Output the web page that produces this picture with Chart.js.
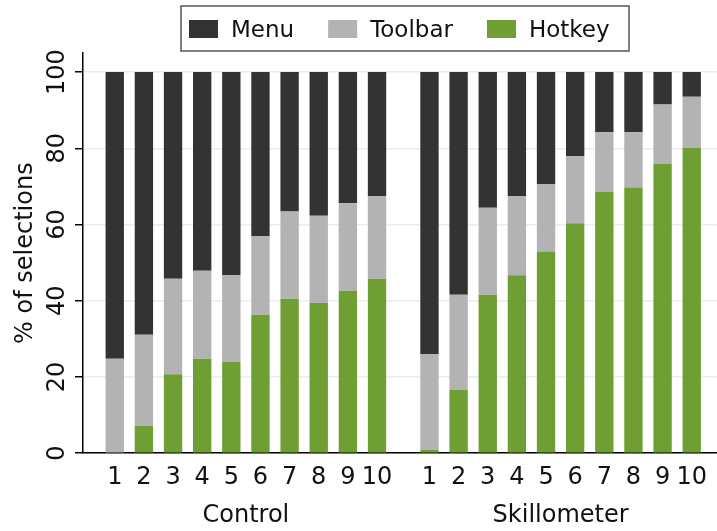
<!DOCTYPE html>
<html lang="en">
<head>
    <meta charset="UTF-8">
    <script src="https://cdn.jsdelivr.net/npm/chart.js"></script>
    <title>Selections by session</title>
    <style>
        html, body { margin: 0; padding: 0; background: #fff; }
        #wrap { width: 717px; height: 531px; }
    </style>
</head>
<body>
<div id="wrap"><canvas id="myChart" width="717" height="531"></canvas></div>
<script>
// data (% of selections per session)
var groups = ['Control', 'Skillometer'];
var sessions = ['1', '2', '3', '4', '5', '6', '7', '8', '9', '10'];
var hotkeyControl = [0, 7.2, 20.7, 24.8, 24.0, 36.3, 40.5, 39.4, 42.6, 45.8];
var toolbarControl = [24.8, 23.9, 25.1, 23.1, 22.7, 20.7, 22.9, 22.9, 23.0, 21.7];
var menuControl = [75.2, 68.9, 54.2, 52.1, 53.3, 43.0, 36.6, 37.7, 34.4, 32.5];
var hotkeySkill = [0.9, 16.6, 41.6, 46.7, 52.9, 60.3, 68.6, 69.7, 75.9, 80.1];
var toolbarSkill = [25.1, 25.0, 22.8, 20.8, 17.7, 17.7, 15.6, 14.5, 15.6, 13.4];
var menuSkill = [74.0, 58.4, 35.6, 32.5, 29.4, 22.0, 15.8, 15.8, 8.5, 6.5];
var yTicks = [0, 20, 40, 60, 80, 100];

var FONT = 'DejaVu Sans';
var groupStep = 10.8; // distance between session 1 of each group on the x scale

function xPos(g, i) {
    return g * groupStep + i + 1;
}

var positions = [];
var tickNames = [];
for (var g = 0; g < groups.length; g++) {
    for (var i = 0; i < sessions.length; i++) {
        positions.push(xPos(g, i));
        tickNames.push(sessions[i]);
    }
}

function points(a, b) {
    var out = [];
    a.concat(b).forEach(function (v, k) {
        out.push({ x: positions[k], y: v });
    });
    return out;
}

// box legend drawn above the plot
var boxLegend = {
    id: 'boxLegend',
    afterDraw: function (chart) {
        var ctx = chart.ctx;
        var sets = chart.data.datasets.slice().reverse();
        ctx.save();
        ctx.font = '23px "' + FONT + '"';
        ctx.textBaseline = 'middle';
        var sq = 29, gap = 13, between = 34;
        var x0 = chart.chartArea.left + 98;
        ctx.strokeStyle = '#555';
        ctx.lineWidth = 1.5;
        ctx.strokeRect(x0, 6, 448, 45);
        var x = x0 + 8;
        sets.forEach(function (d) {
            ctx.fillStyle = d.backgroundColor;
            ctx.fillRect(x, 20, sq, 18);
            ctx.fillStyle = '#111';
            ctx.fillText(d.label, x + sq + gap, 31);
            x += sq + gap + ctx.measureText(d.label).width + between;
        });
        ctx.restore();
    }
};

// group names under the session numbers
var groupLabels = {
    id: 'groupLabels',
    afterDraw: function (chart) {
        var ctx = chart.ctx;
        var sx = chart.scales.x;
        ctx.save();
        ctx.font = '24px "' + FONT + '"';
        ctx.fillStyle = '#111';
        ctx.textAlign = 'center';
        ctx.textBaseline = 'middle';
        for (var g = 0; g < groups.length; g++) {
            var a = sx.getPixelForValue(xPos(g, 0));
            var b = sx.getPixelForValue(xPos(g, sessions.length - 1));
            ctx.fillText(groups[g], (a + b) / 2, 516);
        }
        ctx.restore();
    }
};

var ctx = document.getElementById('myChart').getContext('2d');
var myChart = new Chart(ctx, {
    type: 'bar',
    data: {
        datasets: [
            { label: 'Hotkey', data: points(hotkeyControl, hotkeySkill), backgroundColor: '#6f9f33' },
            { label: 'Toolbar', data: points(toolbarControl, toolbarSkill), backgroundColor: '#b3b3b3' },
            { label: 'Menu', data: points(menuControl, menuSkill), backgroundColor: '#333333' }
        ]
    },
    options: {
        responsive: false,
        animation: false,
        layout: { padding: { top: 53, bottom: 29, right: 0, left: 0 } },
        datasets: { bar: { barPercentage: 1, categoryPercentage: 0.63 } },
        plugins: {
            legend: { display: false },
            tooltip: { enabled: false }
        },
        scales: {
            x: {
                type: 'linear',
                stacked: true,
                offset: false,
                min: -0.09,
                max: 21.66,
                afterBuildTicks: function (scale) {
                    scale.ticks = positions.map(function (p) { return { value: p }; });
                },
                ticks: {
                    autoSkip: false,
                    maxRotation: 0,
                    padding: 10,
                    color: '#111',
                    font: { family: FONT, size: 24 },
                    callback: function (value, index) { return tickNames[index]; }
                },
                grid: { display: false, drawTicks: false },
                border: { display: true, color: '#000', width: 1.5 }
            },
            y: {
                stacked: true,
                min: 0,
                max: 105,
                afterBuildTicks: function (scale) {
                    scale.ticks = yTicks.map(function (v) { return { value: v }; });
                },
                ticks: {
                    minRotation: 90,
                    maxRotation: 90,
                    crossAlign: 'center',
                    padding: -6,
                    color: '#111',
                    font: { family: FONT, size: 24 }
                },
                grid: { color: '#e8eef0', lineWidth: 1.5, tickLength: 8, tickColor: '#000', tickWidth: 1.5 },
                border: { display: true, color: '#000', width: 1.5 },
                title: {
                    display: true,
                    text: '% of selections',
                    color: '#111',
                    font: { family: FONT, size: 24 },
                    padding: { top: 11.6, bottom: 17.8 }
                }
            }
        }
    },
    plugins: [boxLegend, groupLabels]
});
</script>
</body>
</html>
